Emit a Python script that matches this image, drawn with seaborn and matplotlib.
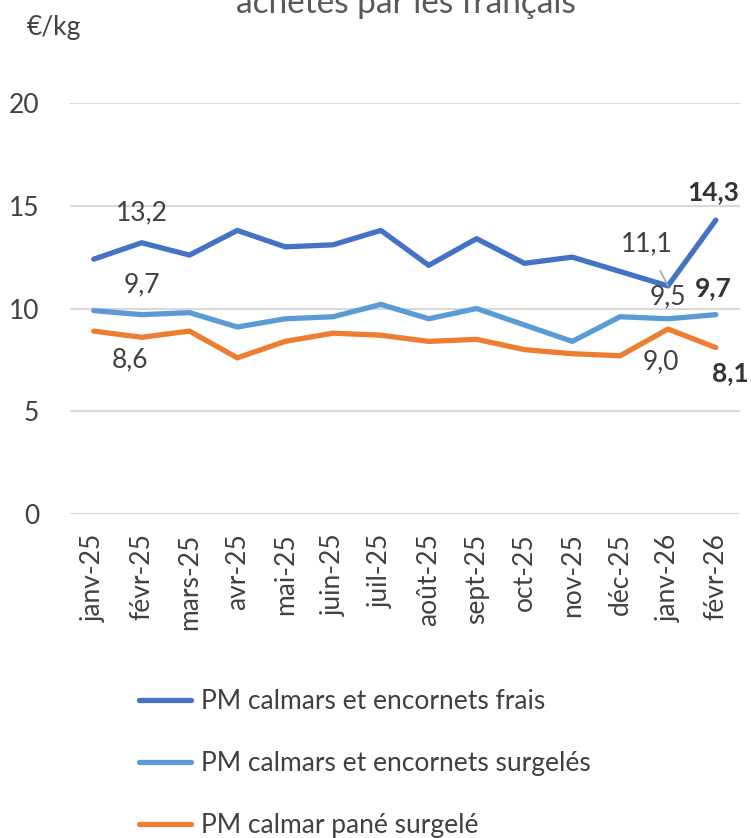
import pandas as pd
import matplotlib.pyplot as plt
import seaborn as sns

# Data
mois = ['janv-25', 'févr-25', 'mars-25', 'avr-25', 'mai-25', 'juin-25', 'juil-25',
        'août-25', 'sept-25', 'oct-25', 'nov-25', 'déc-25', 'janv-26', 'févr-26']
frais = [12.4, 13.2, 12.6, 13.8, 13.0, 13.1, 13.8, 12.1, 13.4, 12.2, 12.5, 11.8, 11.1, 14.3]
surgeles = [9.9, 9.7, 9.8, 9.1, 9.5, 9.6, 10.2, 9.5, 10.0, 9.2, 8.4, 9.6, 9.5, 9.7]
pane = [8.9, 8.6, 8.9, 7.6, 8.4, 8.8, 8.7, 8.4, 8.5, 8.0, 7.8, 7.7, 9.0, 8.1]

series = ['PM calmars et encornets frais', 'PM calmars et encornets surgelés', 'PM calmar pané surgelé']
couleurs = ['#4472C4', '#5B9BD5', '#ED7D31']

df = pd.DataFrame({
    'mois': mois * 3,
    'prix': frais + surgeles + pane,
    'serie': [series[0]] * 14 + [series[1]] * 14 + [series[2]] * 14,
})

sns.set_theme(style='white')
plt.rcParams['font.family'] = ['Lato', 'DejaVu Sans']
gris = '#404040'

fig = plt.figure(figsize=(7.51, 8.38), dpi=100)
ax = fig.add_axes([0.093, 0.3866, 0.892, 0.4905])

sns.lineplot(data=df, x='mois', y='prix', hue='serie', palette=couleurs,
             linewidth=3.8, sort=False, ax=ax, solid_capstyle='round')

ax.set_ylim(0, 20)
ax.set_xlim(-0.5, 13.5)
ax.set_yticks([0, 5, 10, 15, 20])
ax.yaxis.grid(True, color='#D9D9D9', linewidth=1.5)
ax.set_axisbelow(True)
for s in ax.spines.values():
    s.set_visible(False)
ax.set_xlabel('')
ax.set_ylabel('')
ax.tick_params(axis='y', length=0, pad=22, labelsize=19, labelcolor=gris)
ax.tick_params(axis='x', length=0, pad=14, labelsize=19, labelcolor=gris, rotation=90)

# data labels
fs = 19
fonce = '#333333'
ax.text(1, frais[1] + 1.45, '13,2', ha='center', va='center', fontsize=fs, color=gris)
ax.text(1, surgeles[1] + 1.45, '9,7', ha='center', va='center', fontsize=fs, color=gris)
ax.text(0.75, pane[1] - 1.1, '8,6', ha='center', va='center', fontsize=fs, color=gris)
ax.annotate('11,1', xy=(12, frais[12]), xytext=(11.55, 13.15), ha='center', va='center',
            fontsize=fs, color=gris,
            arrowprops=dict(arrowstyle='-', color='#A6A6A6', lw=1.2, shrinkA=9, shrinkB=0))
ax.text(12, surgeles[12] + 1.05, '9,5', ha='center', va='center', fontsize=fs, color=gris)
ax.text(11.85, pane[12] - 1.6, '9,0', ha='center', va='center', fontsize=fs, color=gris)
ax.text(12.95, frais[13] + 1.35, '14,3', ha='center', va='center', fontsize=fs, color=fonce, fontweight='bold')
ax.text(12.95, surgeles[13] + 1.3, '9,7', ha='center', va='center', fontsize=fs, color=fonce, fontweight='bold')
ax.text(1 - 2 / 751, 1 - 373 / 838, '8,1', transform=fig.transFigure, ha='right', va='center',
        fontsize=fs, color=fonce, fontweight='bold')

ax.legend(loc='upper left', bbox_to_anchor=(0.087, -0.40), frameon=False,
          fontsize=19, labelcolor=gris, handlelength=2.0, handletextpad=0.38,
          labelspacing=1.4, borderaxespad=0)
for line in ax.get_legend().get_lines():
    line.set_linewidth(3.8)

fig.text(0.54, 1 - 13 / 838, 'achetés par les français', ha='center', va='baseline',
         fontsize=24, color='#595959')
fig.text(0.035, 1 - 28 / 838, '€/kg', ha='left', va='center', fontsize=19, color=gris)

fig.savefig('out.png', dpi=100)
